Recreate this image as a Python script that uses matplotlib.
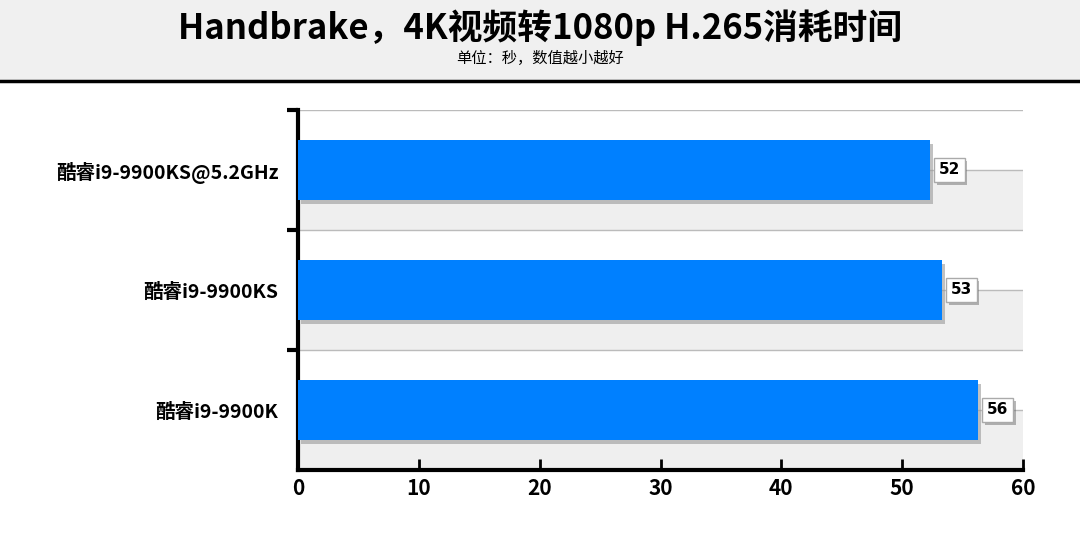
import matplotlib.pyplot as plt
from matplotlib.patches import Rectangle
import matplotlib.patheffects as pe

plt.rcParams['font.family'] = ['Noto Sans CJK SC', 'DejaVu Sans']

# data (top to bottom)
cpus = ['酷睿i9-9900KS@5.2GHz', '酷睿i9-9900KS', '酷睿i9-9900K']
times = [52.3, 53.3, 56.3]
labels = ['52', '53', '56']
xticks = [0, 10, 20, 30, 40, 50, 60]

fig = plt.figure(figsize=(10.8, 5.38), dpi=100)

# title band
fig.patches.append(Rectangle((0, 80 / 538 * 0 + 1 - 80 / 538), 1, 80 / 538,
                             transform=fig.transFigure, facecolor='#f0f0f0',
                             edgecolor='none', zorder=0))
fig.lines.append(plt.Line2D([0, 1], [1 - 81 / 538] * 2, transform=fig.transFigure,
                            color='black', lw=2.5))
fig.text(0.5, 1 - 28 / 538, 'Handbrake，4K视频转1080p H.265消耗时间', ha='center', va='center',
         fontsize=25, fontweight='bold')
fig.text(0.5, 1 - 58 / 538, '单位：秒，数值越小越好', ha='center', va='center', fontsize=11)

ax = fig.add_axes([298 / 1080, 68 / 538, 725 / 1080, 360 / 538])
n = len(cpus)
ypos = list(range(n))[::-1]
ax.set_ylim(-0.5, n - 0.5)
ax.set_xlim(0, 60)

# background bands: lower half of each category shaded
for y in ypos:
    ax.axhspan(y - 0.5, y, color='#efefef', zorder=0, lw=0)
    ax.axhline(y, color='#bbbbbb', lw=1, zorder=1)
    ax.axhline(y + 0.5, color='#bbbbbb', lw=1, zorder=1)

bars = ax.barh(ypos, times, height=0.5, color='#0080ff', zorder=3,
               path_effects=[pe.SimplePatchShadow(offset=(2, -3), shadow_rgbFace='#999999', alpha=0.6),
                             pe.Normal()])
for y, t, lab in zip(ypos, times, labels):
    ax.text(t + 1.6, y, lab, ha='center', va='center', fontsize=11, fontweight='bold',
            family='DejaVu Sans', zorder=4,
            bbox=dict(boxstyle='square,pad=0.3', fc='white', ec='#aaaaaa', lw=1,
                      path_effects=[pe.SimplePatchShadow(offset=(2, -2), alpha=0.4), pe.Normal()]))

ax.set_yticks(ypos)
ax.set_yticklabels(cpus, fontsize=14, fontweight='bold')
ax.set_yticks([y + 0.5 for y in range(n)], minor=True)
ax.set_xticks(xticks)
ax.set_xticklabels([str(x) for x in xticks], fontsize=15, fontweight='bold')
ax.tick_params(axis='y', which='major', length=0, pad=14)
ax.tick_params(axis='y', which='minor', length=8, width=3, direction='out')
ax.tick_params(axis='x', length=8, width=2, direction='in', pad=6)
for s in ['top', 'right']:
    ax.spines[s].set_visible(False)
ax.spines['left'].set_linewidth(3)
ax.spines['bottom'].set_linewidth(3)

fig.savefig('out.png', dpi=100)
